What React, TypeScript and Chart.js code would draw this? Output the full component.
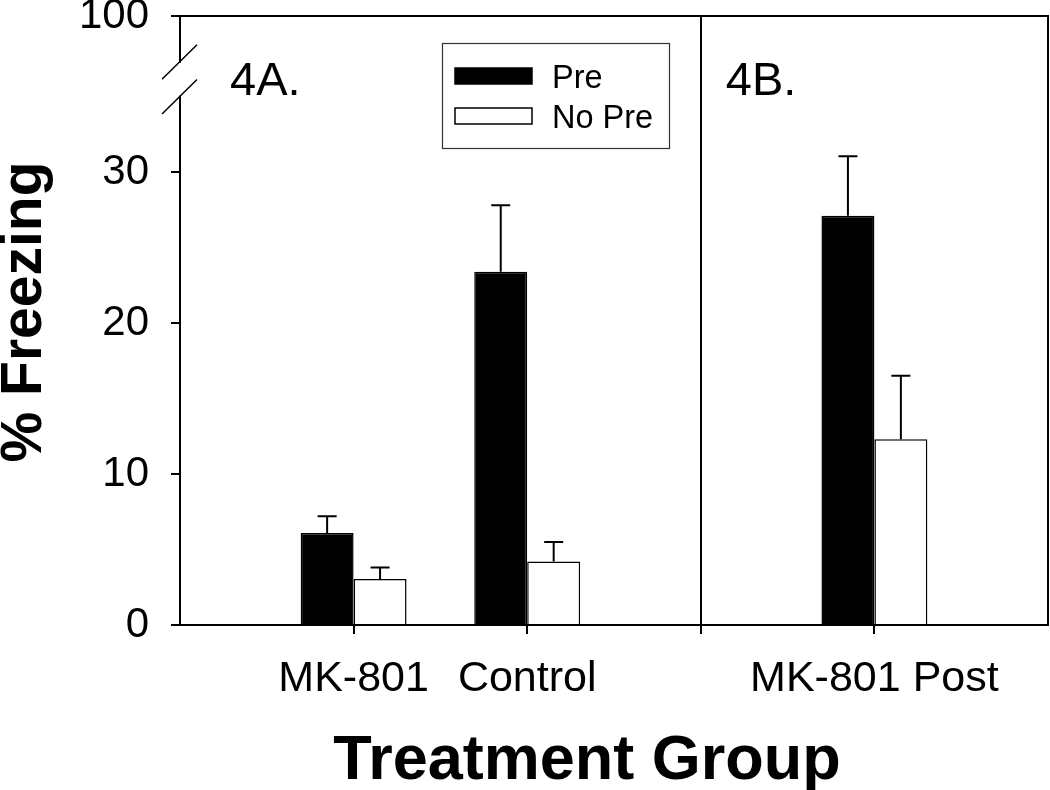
import React, { useEffect, useRef } from 'react';
import { Chart, registerables } from 'chart.js';

Chart.register(...registerables);

// ---- data ----
const categories = ['MK-801', 'Control', 'MK-801 Post'];
const seriesNames = ['Pre', 'No Pre'];
const preValues = [6.1, 23.4, 27.1];
const preErrors = [1.1, 4.4, 3.95];
const noPreValues = [3.05, 4.2, 12.3];
const noPreErrors = [0.75, 1.3, 4.2];
// y ticks: the top tick (shown as 100) sits above an axis break
const yTickValues = [0, 10, 20, 30, 40.33];
const yTickLabels = ['0', '10', '20', '30', '100'];
const yBreakRange = [35.0, 37.3];
const panelLabels = ['4A.', '4B.'];
const xTitle = 'Treatment Group';
const yTitle = '% Freezing';

const FONT = "'Liberation Sans', Arial, Helvetica, sans-serif";

// axis slots: blank edges, panel A groups, divider, panel B group, blank edge
const axisLabels = ['', categories[0], categories[1], '', categories[2], ''];
const slotIndex = [1, 2, 4];
const dividerSlot = 3;

function toSlots(values: number[]): (number | null)[] {
  const out: (number | null)[] = axisLabels.map(() => null);
  values.forEach((v, i) => {
    out[slotIndex[i]] = v;
  });
  return out;
}

const errorsByDataset = [toSlots(preErrors), toSlots(noPreErrors)];

const decorPlugin = {
  id: 'decor',
  afterDatasetsDraw(chart: any) {
    const ctx = chart.ctx;
    const yScale = chart.scales.y;
    ctx.save();
    ctx.strokeStyle = '#000';
    ctx.lineWidth = 2;
    chart.data.datasets.forEach((ds: any, di: number) => {
      const meta = chart.getDatasetMeta(di);
      meta.data.forEach((bar: any, i: number) => {
        const v = ds.data[i];
        const e = errorsByDataset[di][i];
        if (v == null || e == null) return;
        const x = bar.x;
        const yTop = yScale.getPixelForValue(v + e);
        ctx.beginPath();
        ctx.moveTo(x, bar.y);
        ctx.lineTo(x, yTop);
        ctx.moveTo(x - 9.5, yTop);
        ctx.lineTo(x + 9.5, yTop);
        ctx.stroke();
      });
    });
    ctx.restore();
  },
  afterDraw(chart: any) {
    const ctx = chart.ctx;
    const area = chart.chartArea;
    const yScale = chart.scales.y;
    const xScale = chart.scales.x;
    ctx.save();

    // frame: top and right edges
    ctx.strokeStyle = '#000';
    ctx.lineWidth = 2;
    ctx.beginPath();
    ctx.moveTo(area.left, area.top);
    ctx.lineTo(area.right, area.top);
    ctx.lineTo(area.right, area.bottom);
    ctx.stroke();

    // axis break on the y axis
    const yb1 = yScale.getPixelForValue(yBreakRange[0]);
    const yb2 = yScale.getPixelForValue(yBreakRange[1]);
    ctx.fillStyle = '#fff';
    ctx.fillRect(area.left - 3, yb2 + 1, 6, yb1 - yb2 - 2);
    ctx.strokeStyle = '#000';
    ctx.lineWidth = 1.5;
    [yb1, yb2].forEach((yy) => {
      ctx.beginPath();
      ctx.moveTo(area.left - 18, yy + 17.5);
      ctx.lineTo(area.left + 17, yy - 17);
      ctx.stroke();
    });

    // panel labels
    ctx.fillStyle = '#000';
    ctx.font = `47px ${FONT}`;
    ctx.textAlign = 'left';
    ctx.textBaseline = 'alphabetic';
    ctx.fillText(panelLabels[0], area.left + 50, 95);
    const divX = xScale.getPixelForTick(dividerSlot);
    ctx.fillText(panelLabels[1], divX + 25, 95);

    // legend
    const lx = 442, ly = 43, lw = 227, lh = 105;
    ctx.strokeStyle = '#333';
    ctx.lineWidth = 1.2;
    ctx.strokeRect(lx + 0.5, ly + 0.5, lw, lh);
    chart.data.datasets.forEach((ds: any, i: number) => {
      const sy = ly + 25 + i * 40;
      ctx.fillStyle = ds.backgroundColor;
      ctx.fillRect(455, sy, 77, 16);
      ctx.strokeStyle = '#000';
      ctx.lineWidth = 1.5;
      ctx.strokeRect(455, sy, 77, 16);
      ctx.fillStyle = '#000';
      ctx.font = `32.5px ${FONT}`;
      ctx.textAlign = 'left';
      ctx.textBaseline = 'alphabetic';
      ctx.fillText(ds.label, 552, sy + 20);
    });

    // axis titles
    ctx.fillStyle = '#000';
    ctx.font = `bold 63px ${FONT}`;
    ctx.textAlign = 'center';
    ctx.textBaseline = 'alphabetic';
    ctx.fillText(xTitle, 587, 779);

    ctx.save();
    ctx.translate(41, 312);
    ctx.rotate(-Math.PI / 2);
    ctx.font = `bold 57px ${FONT}`;
    ctx.textAlign = 'center';
    ctx.textBaseline = 'alphabetic';
    ctx.fillText(yTitle, 0, 0);
    ctx.restore();

    ctx.restore();
  },
};

export default function App() {
  const canvasRef = useRef<HTMLCanvasElement | null>(null);

  useEffect(() => {
    if (!canvasRef.current) return;
    const chart = new Chart(canvasRef.current, {
      type: 'bar',
      data: {
        labels: axisLabels,
        datasets: [
          {
            label: seriesNames[0],
            data: toSlots(preValues),
            backgroundColor: '#000000',
            borderColor: '#000000',
            borderWidth: 1.5,
          },
          {
            label: seriesNames[1],
            data: toSlots(noPreValues),
            backgroundColor: '#ffffff',
            borderColor: '#000000',
            borderWidth: 1.5,
          },
        ],
      },
      options: {
        animation: false,
        responsive: false,
        layout: { padding: { left: 0, top: 16, right: 2, bottom: 0 } },
        datasets: { bar: { categoryPercentage: 0.61, barPercentage: 1 } },
        plugins: {
          legend: { display: false },
          tooltip: { enabled: false },
        },
        scales: {
          x: {
            type: 'category',
            offset: false,
            grid: {
              display: true,
              offset: false,
              drawOnChartArea: true,
              drawTicks: true,
              tickLength: 9,
              lineWidth: 2,
              color: (c: any) => (c.index === dividerSlot ? '#000' : 'rgba(0,0,0,0)'),
              tickColor: (c: any) =>
                c.index >= 1 && c.index <= axisLabels.length - 2 ? '#000' : 'rgba(0,0,0,0)',
            },
            border: { display: true, color: '#000', width: 2 },
            ticks: {
              color: '#000',
              font: { family: FONT, size: 43 },
              padding: 19,
              maxRotation: 0,
              autoSkip: false,
            },
            afterFit: (s: any) => {
              s.height = 165;
              s.paddingLeft = 0;
              s.paddingRight = 0;
            },
          },
          y: {
            type: 'linear',
            min: 0,
            max: yTickValues[yTickValues.length - 1],
            afterBuildTicks: (s: any) => {
              s.ticks = yTickValues.map((v) => ({ value: v }));
            },
            ticks: {
              color: '#000',
              font: { family: FONT, size: 42 },
              padding: 22,
              callback: (_v: any, i: number) => yTickLabels[i],
            },
            grid: {
              drawOnChartArea: false,
              drawTicks: true,
              tickLength: 9,
              lineWidth: 2,
              color: '#000',
            },
            border: { display: true, color: '#000', width: 2 },
            afterFit: (s: any) => {
              s.width = 180;
              s.paddingTop = 0;
              s.paddingBottom = 0;
            },
          },
        },
      } as any,
      plugins: [decorPlugin],
    });
    return () => chart.destroy();
  }, []);

  return (
    <div style={{ position: 'absolute', left: 0, top: 0, width: 1050, height: 790, background: '#fff' }}>
      <canvas ref={canvasRef} width={1050} height={790} style={{ display: 'block' }} />
    </div>
  );
}
